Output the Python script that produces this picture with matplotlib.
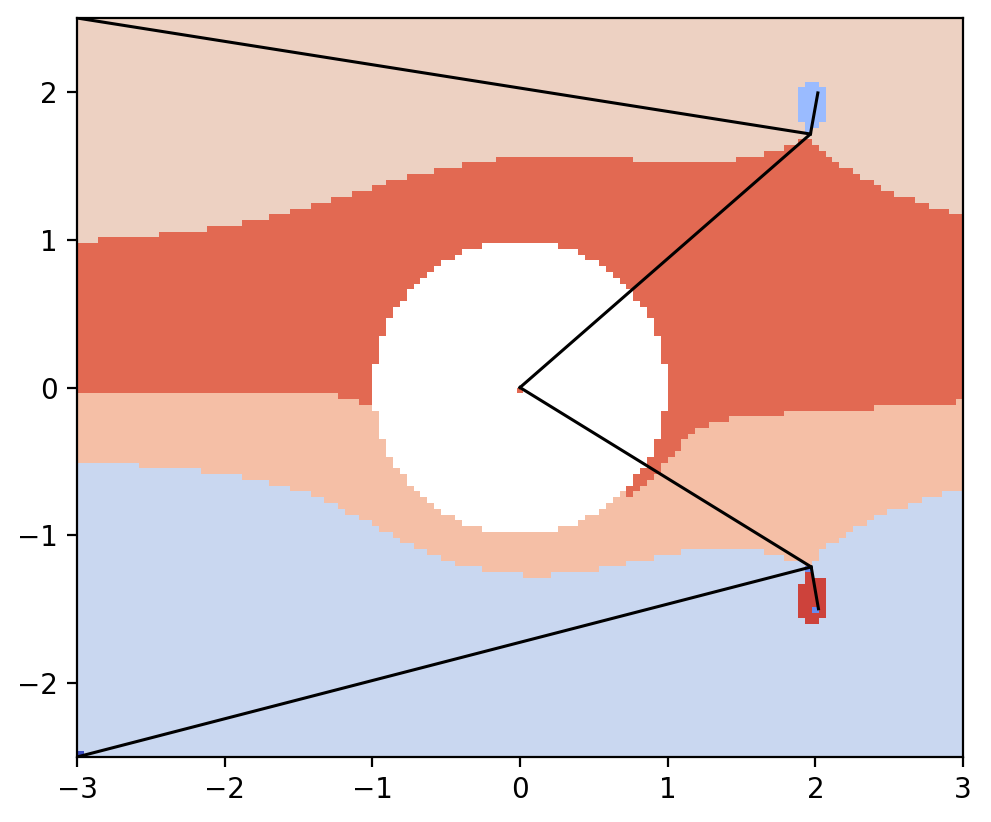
import numpy as np
import matplotlib
matplotlib.use('Agg')
import matplotlib.pyplot as plt
from matplotlib.colors import ListedColormap

# sampling grid of the map
nx, ny = 129, 128
x_lim = (-3, 3)
y_lim = (-2.5, 2.5)
obstacle_r = 1.0

# region colours, list index = region code
region_colors = ['#3b4cc0', '#6a8bef', '#9abbff', '#c9d7f0',
                 '#edd1c2', '#f5bfa6', '#e26952', '#cd423b']

# boundaries as steps: y holds from x onward
# light blue / salmon
b1_x = [-3.00, -2.58, -2.16, -1.88, -1.70, -1.56, -1.42, -1.33, -1.23, -1.19,
        -1.09, -1.00, -0.95, -0.86, -0.81, -0.72, -0.63, -0.53, -0.44, -0.26,
        0.02, 0.21, 0.53, 0.72, 0.91, 1.09, 1.65, 1.79, 1.93, 1.98,
        2.02, 2.07, 2.16, 2.21, 2.26, 2.35, 2.40, 2.49, 2.63, 2.72, 2.86]
b1_y = [-0.51, -0.55, -0.59, -0.62, -0.66, -0.70, -0.74, -0.78, -0.82, -0.86,
        -0.90, -0.94, -0.98, -1.02, -1.05, -1.09, -1.13, -1.17, -1.21, -1.25,
        -1.29, -1.25, -1.21, -1.17, -1.13, -1.09, -1.13, -1.17, -1.21, -1.17,
        -1.09, -1.05, -1.02, -0.98, -0.94, -0.90, -0.86, -0.82, -0.78, -0.74, -0.70]
# salmon / red
b2_x = [-3.00, -1.23, -1.09, 0.72, 0.77, 0.81, 0.86, 0.91, 0.95, 1.00,
        1.05, 1.09, 1.14, 1.19, 1.28, 1.42, 1.79, 2.40, 2.95]
b2_y = [-0.04, -0.08, -0.12, -0.74, -0.70, -0.66, -0.62, -0.59, -0.51, -0.47,
        -0.43, -0.35, -0.31, -0.27, -0.23, -0.20, -0.16, -0.12, -0.08]
# red / beige
b3_x = [-3.00, -2.86, -2.44, -2.12, -1.88, -1.70, -1.56, -1.42, -1.28, -1.14,
        -1.00, -0.91, -0.77, -0.58, -0.40, -0.16, 0.77, 1.47, 1.65, 1.79,
        1.88, 1.98, 2.02, 2.07, 2.12, 2.16, 2.26, 2.30, 2.40, 2.44,
        2.53, 2.67, 2.77, 2.91]
b3_y = [0.98, 1.02, 1.05, 1.09, 1.13, 1.17, 1.21, 1.25, 1.29, 1.33,
        1.37, 1.41, 1.45, 1.48, 1.52, 1.56, 1.52, 1.56, 1.60, 1.64,
        1.68, 1.64, 1.60, 1.56, 1.52, 1.48, 1.45, 1.41, 1.37, 1.33,
        1.29, 1.25, 1.21, 1.17]

# small patches: x0, x1, y0, y1, region code
patches = [
    (1.88, 2.07, 1.80, 2.04, 2),
    (1.93, 2.02, 2.04, 2.08, 2),
    (1.93, 2.02, 1.76, 1.80, 2),
    (1.93, 1.98, 1.72, 1.76, 2),
    (1.88, 2.07, -1.56, -1.33, 7),
    (1.93, 2.07, -1.33, -1.29, 7),
    (1.93, 1.98, -1.29, -1.25, 7),
    (1.93, 2.02, -1.60, -1.56, 7),
    (1.93, 1.98, -1.25, -1.21, 1),
    (1.98, 2.02, -1.52, -1.48, 1),
    (-3.00, -2.95, -2.50, -2.46, 0),
    (-0.02, 0.02, -0.04, 0.00, 6),
]

# arms and tethers
arm_up_x = [0, 1.967, 2.017]
arm_up_y = [0, 1.715, 1.993]
arm_down_x = [0, 1.972, 2.021]
arm_down_y = [0, -1.214, -1.497]
tether_up_x = [-3, 1.967]
tether_up_y = [2.5, 1.715]
tether_down_x = [-3, 1.972]
tether_down_y = [-2.5, -1.214]

# build the region map
xe = np.linspace(*x_lim, nx + 1)
ye = np.linspace(*y_lim, ny + 1)
xc = (xe[:-1] + xe[1:]) / 2
yc = (ye[:-1] + ye[1:]) / 2
XC, YC = np.meshgrid(xc, yc)


def step(bx, by):
    idx = np.searchsorted(bx, xc, side='right') - 1
    return np.array(by)[idx]


region = np.full((ny, nx), 4.0)
region[YC < step(b3_x, b3_y)] = 6
region[YC < step(b2_x, b2_y)] = 5
region[YC < step(b1_x, b1_y)] = 3

XS, YS = np.meshgrid(np.linspace(*x_lim, nx), np.linspace(*y_lim, ny))
region[XS ** 2 + YS ** 2 < obstacle_r ** 2] = np.nan

for x0, x1, y0, y1, code in patches:
    region[(XC > x0) & (XC < x1) & (YC > y0) & (YC < y1)] = code

fig = plt.figure(figsize=(4.955, 4.11), dpi=200)
ax = fig.add_axes([77 / 991, 65 / 822, 886 / 991, 739 / 822])

cmap = ListedColormap(region_colors)
ax.imshow(region, cmap=cmap, vmin=-0.5, vmax=7.5, origin='lower',
          extent=[*x_lim, *y_lim], interpolation='nearest', aspect='auto')

ax.plot(tether_up_x, tether_up_y, color='black', lw=1.1)
ax.plot(tether_down_x, tether_down_y, color='black', lw=1.1)
ax.plot(arm_up_x, arm_up_y, color='black', lw=1.1)
ax.plot(arm_down_x, arm_down_y, color='black', lw=1.1)

ax.set_xlim(*x_lim)
ax.set_ylim(*y_lim)

fig.savefig('out.png', dpi=200)
